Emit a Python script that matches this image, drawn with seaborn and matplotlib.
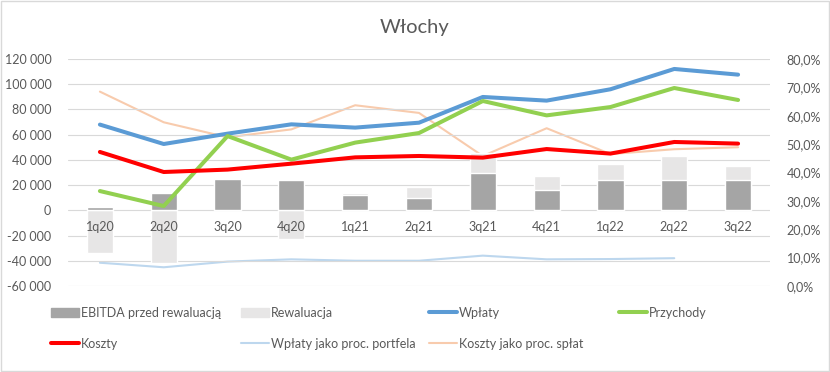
import numpy as np
import matplotlib.pyplot as plt
import matplotlib.ticker as mticker
from matplotlib.patches import Patch, Rectangle
from matplotlib.lines import Line2D
import seaborn as sns

quarters = ["1q20", "2q20", "3q20", "4q20", "1q21", "2q21", "3q21", "4q21", "1q22", "2q22", "3q22"]
ebitda = [2600, 13700, 25100, 24300, 12400, 9800, 29600, 16100, 23800, 23800, 23800]
rewaluacja = [-33500, -41500, 500, -22700, 1000, 8700, 15800, 11400, 12900, 19300, 11300]
wplaty = [68000, 52600, 60800, 68200, 65600, 69500, 89900, 87000, 96000, 112100, 107600]
przychody = [15300, 3400, 58900, 40200, 53700, 61300, 86700, 75300, 81900, 97000, 87500]
koszty = [46300, 30400, 32300, 37000, 42000, 43100, 41800, 48600, 45000, 54200, 52900]
wplaty_proc = [0.082, 0.066, 0.086, 0.094, 0.089, 0.089, 0.107, 0.094, 0.095, 0.098, np.nan]
koszty_proc = [0.685, 0.577, 0.524, 0.552, 0.637, 0.610, 0.458, 0.556, 0.465, 0.482, 0.489]

sns.set_style("white")
plt.rcParams["font.family"] = ["Lato", "DejaVu Sans"]

grey_txt = "#595959"
c_dark, c_light = "#A5A5A5", "#E7E6E6"
c_blue, c_green, c_red = "#5B9BD5", "#92D050", "#FF0000"
c_lblue, c_peach = "#BDD7EE", "#F8CBAD"

fig = plt.figure(figsize=(8.3, 3.72), dpi=100)
ax = fig.add_axes([68 / 830, 1 - 286 / 372, 702 / 830, 227 / 372])
ax2 = ax.twinx()

yticks = np.arange(-60000, 120001, 20000)
for t in yticks:
    ax.axhline(t, color="#D9D9D9", lw=0.8, zorder=0)

# stacked bars (positive revaluation sits on EBITDA, negative goes below zero)
eb = np.array(ebitda)
rw = np.array(rewaluacja)
stack_top = np.where(rw > 0, eb + rw, rw)
sns.barplot(x=quarters, y=stack_top, color=c_light, saturation=1, width=0.41, ax=ax)
sns.barplot(x=quarters, y=eb, color=c_dark, saturation=1, width=0.41, ax=ax)

xpos = np.arange(len(quarters))
line_kw = dict(solid_capstyle="round", solid_joinstyle="round")
sns.lineplot(x=xpos, y=wplaty, color=c_blue, lw=2.9, ax=ax, **line_kw)
sns.lineplot(x=xpos, y=przychody, color=c_green, lw=2.9, ax=ax, **line_kw)
sns.lineplot(x=xpos, y=koszty, color=c_red, lw=2.9, ax=ax, **line_kw)

sns.lineplot(x=xpos, y=wplaty_proc, color=c_lblue, lw=1.5, ax=ax2, **line_kw)
sns.lineplot(x=xpos, y=koszty_proc, color=c_peach, lw=1.5, ax=ax2, **line_kw)

ax.set_zorder(ax2.get_zorder() + 1)
ax.patch.set_visible(False)

ax.set_xlim(-0.5, len(quarters) - 0.5)
ax.set_ylim(-60000, 120000)
ax.set_yticks(yticks)
ax.yaxis.set_major_formatter(mticker.FuncFormatter(lambda v, p: f"{v:,.0f}".replace(",", " ")))
ax.grid(False)
ax.set_axisbelow(False)
for s in ["top", "left", "right"]:
    ax.spines[s].set_visible(False)
ax.spines["bottom"].set_position(("data", 0))
ax.spines["bottom"].set_visible(False)
ax.tick_params(axis="x", length=0, pad=8, labelsize=9, colors=grey_txt)
ax.tick_params(axis="y", length=0, pad=12, labelsize=9, colors=grey_txt)
ax.set_xlabel("")
ax.set_ylabel("")

ax2.set_ylim(0, 0.8)
ax2.set_yticks(np.arange(0, 0.81, 0.1))
ax2.yaxis.set_major_formatter(mticker.FuncFormatter(lambda v, p: f"{v * 100:.1f}%".replace(".", ",")))
ax2.tick_params(axis="y", length=0, pad=12, labelsize=9, colors=grey_txt)
ax2.grid(False)
for s in ax2.spines.values():
    s.set_visible(False)
ax2.set_ylabel("")

fig.text(0.5, 1 - 28 / 372, "Włochy", ha="center", va="center", fontsize=14.5, color=grey_txt)

# legend, laid out like Excel (row-major, fixed columns)
entries = [
    (Patch(color=c_dark), "EBITDA przed rewaluacją"),
    (Patch(color=c_light), "Rewaluacja"),
    (Line2D([], [], color=c_blue, lw=2.9, solid_capstyle="round"), "Wpłaty"),
    (Line2D([], [], color=c_green, lw=2.9, solid_capstyle="round"), "Przychody"),
    (Line2D([], [], color=c_red, lw=2.9, solid_capstyle="round"), "Koszty"),
    (Line2D([], [], color=c_lblue, lw=1.5), "Wpłaty jako proc. portfela"),
    (Line2D([], [], color=c_peach, lw=1.5), "Koszty jako proc. spłat"),
]
col_x = [51, 241, 429, 619]
row_y = [313, 344]
for i, (h, lab) in enumerate(entries):
    x = col_x[i % 4]
    y = row_y[i // 4]
    fig.legend([h], [lab], loc="center left", bbox_to_anchor=(x / 830, 1 - y / 372),
               frameon=False, borderpad=0, borderaxespad=0, handlelength=2.2,
               handleheight=0.8, handletextpad=0.2, fontsize=9, labelcolor=grey_txt)

fig.add_artist(Rectangle((0.001, 0.002), 0.998, 0.996, transform=fig.transFigure,
                         fill=False, edgecolor="#D9D9D9", lw=1))

fig.savefig("out.png", dpi=100)
